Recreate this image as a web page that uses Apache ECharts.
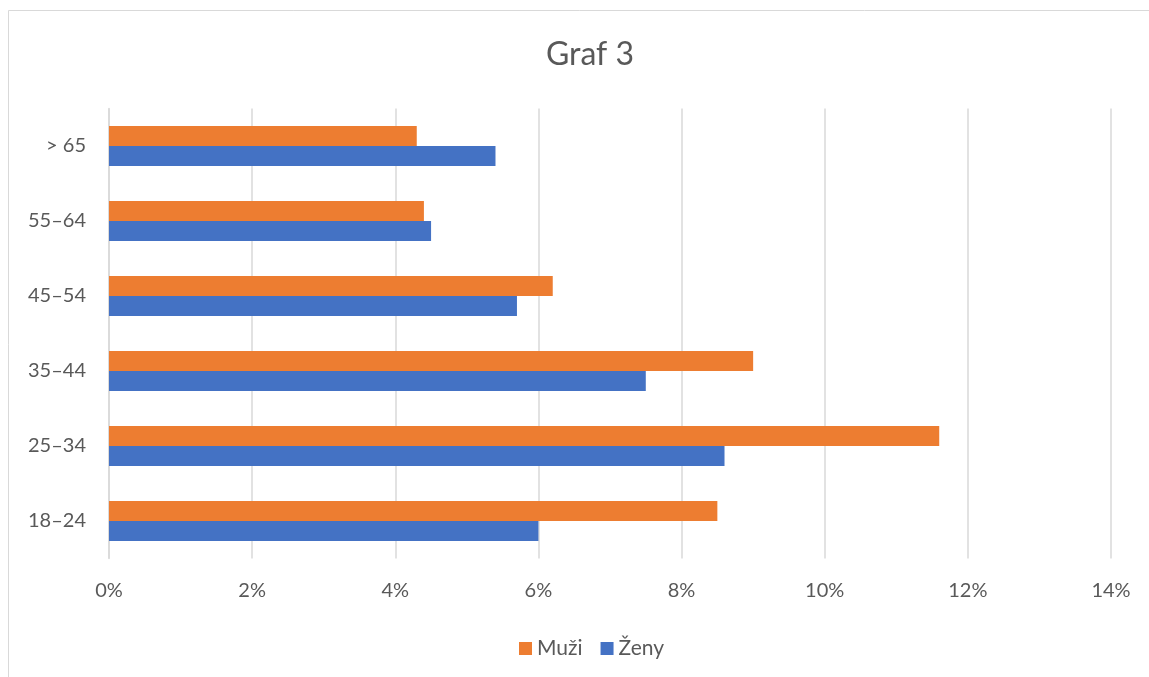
<!DOCTYPE html>
<html>
<head>
<meta charset="utf-8">
<script src="https://cdn.jsdelivr.net/npm/echarts@6/dist/echarts.min.js"></script>
<style>
html,body{margin:0;padding:0;background:#fff;}
#c{width:1149px;height:677px;}
</style>
</head>
<body>
<div id="c"></div>
<script>
const categories = ['18–24', '25–34', '35–44', '45–54', '55–64', '> 65'];
const muzi = [8.5, 11.6, 9.0, 6.2, 4.4, 4.3];
const zeny = [6.0, 8.6, 7.5, 5.7, 4.5, 5.4];
const xTicks = [0, 2, 4, 6, 8, 10, 12, 14];

const FONT = 'Lato, "Open Sans", sans-serif';
const chart = echarts.init(document.getElementById('c'));
chart.setOption({
  animation: false,
  backgroundColor: '#fff',
  graphic: [{
    type: 'rect', shape: {x: 8.5, y: 10.5, width: 1300, height: 800},
    style: {fill: 'none', stroke: '#d9d9d9', lineWidth: 1}, silent: true
  }],
  title: {
    text: 'Graf 3', left: 585, top: 34, textAlign: 'center',
    textStyle: {fontFamily: FONT, fontSize: 32, fontWeight: 'normal', color: '#595959'}
  },
  legend: {
    data: ['Muži', 'Ženy'], left: 514, top: 633,
    itemWidth: 13, itemHeight: 13, itemGap: 18, icon: 'rect',
    textStyle: {fontFamily: FONT, fontSize: 21, color: '#595959'}
  },
  grid: {left: 109, right: 38, top: 108.5, bottom: 118.5, containLabel: false},
  xAxis: {
    type: 'value', min: xTicks[0], max: xTicks[xTicks.length - 1], interval: 2,
    axisLine: {show: false}, axisTick: {show: false},
    axisLabel: {formatter: '{value}%', margin: 22, fontFamily: FONT, fontSize: 20, color: '#595959'},
    splitLine: {lineStyle: {color: '#d9d9d9', width: 1.5}}
  },
  yAxis: {
    type: 'category', data: categories,
    axisLine: {lineStyle: {color: '#d9d9d9', width: 1.5}}, axisTick: {show: false},
    axisLabel: {margin: 23, fontFamily: FONT, fontSize: 20, color: '#595959'}
  },
  series: [
    {name: 'Muži', type: 'bar', data: muzi, barWidth: 20, barGap: '0%', itemStyle: {color: '#ed7d31'}},
    {name: 'Ženy', type: 'bar', data: zeny, barWidth: 20, barGap: '0%', itemStyle: {color: '#4472c4'}}
  ]
});
</script>
</body>
</html>
